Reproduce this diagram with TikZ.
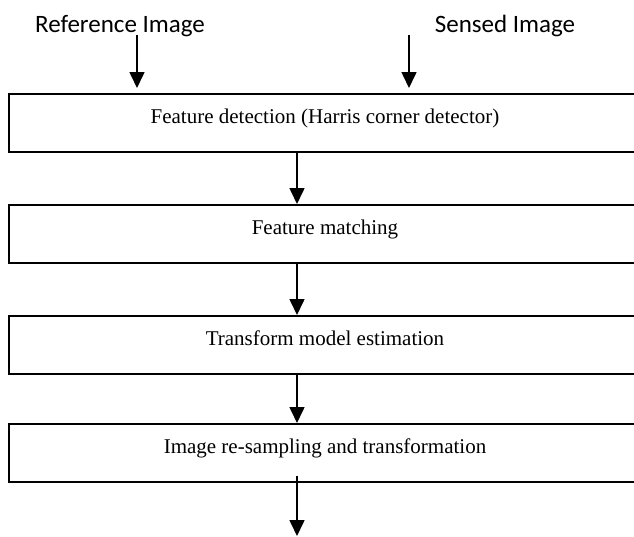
\documentclass[tikz,border=0pt]{standalone}
\usepackage{fontspec}
\setmainfont{Liberation Serif}
\newfontfamily\labelfont{Carlito}
\usetikzlibrary{arrows.meta}
\begin{document}
\begin{tikzpicture}[x=1pt,y=-1pt,
  stagebox/.style={draw, line width=1.6pt, minimum width=632pt, minimum height=58pt,
    anchor=north, inner sep=0pt, text height=15pt, text depth=13pt,
    font=\fontsize{21}{25}\selectfont},
  toplabel/.style={anchor=base, inner sep=0pt, font=\labelfont\fontsize{25}{30}\selectfont},
  flow/.style={line width=1.6pt, -{Triangle[length=16pt,width=15pt]}}
]
\useasboundingbox (0,0) rectangle (634,536);
\clip (0,0) rectangle (634,536);
\node[toplabel] (ref) at (120,32) {Reference Image};
\node[toplabel] (sen) at (505,32) {Sensed Image};
\node[stagebox] (b1) at (325,93) {Feature detection (Harris corner detector)};
\node[stagebox] (b2) at (325,204) {Feature matching};
\node[stagebox] (b3) at (325,315) {Transform model estimation};
\node[stagebox] (b4) at (325,423) {Image re-sampling and transformation};
\coordinate (ra) at (137,35);
\coordinate (rb) at (137,88);
\coordinate (sa) at (409,35);
\coordinate (sb) at (409,88);
\coordinate (col) at (297,0);
\coordinate (endpt) at (297,536);
\draw[flow] (ra) -- (rb);
\draw[flow] (sa) -- (sb);
\draw[flow] (b1.south -| col) -- (b2.north -| col);
\draw[flow] (b2.south -| col) -- (b3.north -| col);
\draw[flow] (b3.south -| col) -- (b4.north -| col);
\draw[flow] ([yshift=7pt]b4.south -| col) -- (endpt);
\end{tikzpicture}
\end{document}
